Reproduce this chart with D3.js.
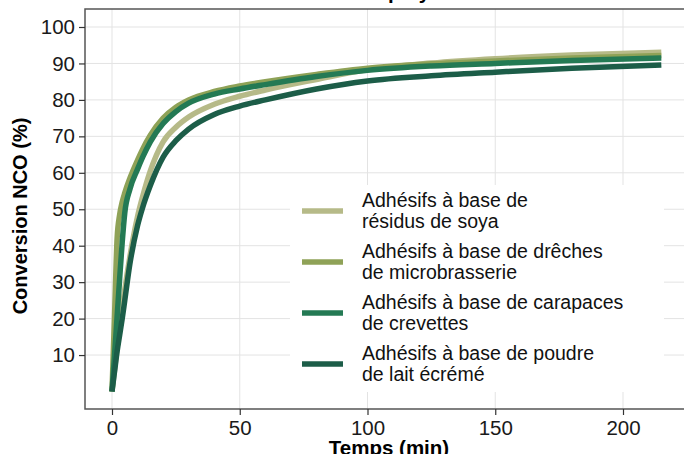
<!DOCTYPE html>
<meta charset="utf-8">
<style>
  body { margin: 0; background: #fff; }
  svg { display: block; font-family: "Liberation Sans", Arial, sans-serif; }
  .grid line { stroke: #e3e3e3; stroke-width: 1; }
  .axis text { font-size: 20.5px; fill: #1a1a1a; }
  .axis line { stroke: #333; stroke-width: 1.2; }
  .axis path { display: none; }
  .series { fill: none; stroke-width: 5.5; stroke-linecap: butt; stroke-linejoin: round; }
  .legend text { font-size: 19.5px; fill: #111; }
  .axtitle { font-size: 20.5px; font-weight: bold; fill: #000; }
</style>

<svg width="684" height="454"></svg>
<script src="https://cdnjs.cloudflare.com/ajax/libs/d3/7.8.5/d3.min.js"></script>
<script>
// data (time in min, NCO conversion in %)
var times = [0, 1, 2, 3, 4, 5, 7, 10, 12, 15, 20, 25, 30, 40, 50, 60, 80, 100, 125, 150, 180, 215];
var soya      = [0, 6, 12, 17.5, 23, 28, 37, 48, 53.5, 60.5, 68.5, 72.5, 75.3, 78.8, 81.0, 82.7, 85.6, 88.3, 90.1, 91.3, 92.3, 93.1];
var dreches   = [0, 21, 42, 48.5, 52, 54.5, 58.5, 63.5, 66.5, 70.3, 75, 78, 80, 82.3, 83.8, 85.0, 87.0, 88.7, 89.9, 90.7, 91.5, 92.2];
var crevettes = [0, 10, 20.5, 31, 41, 49, 55.5, 61, 64.3, 68.5, 73.5, 76.8, 79.1, 81.6, 83.0, 84.2, 86.4, 88.1, 89.3, 90.0, 90.8, 91.5];
var lait      = [0, 5.5, 11, 15.5, 20, 25, 35, 45.5, 50.5, 56.5, 64.3, 68.8, 72, 76, 78.3, 80.0, 83.0, 85.2, 86.6, 87.6, 88.7, 89.6];

var seriesNames = [
  ["Adhésifs à base de", "résidus de soya"],
  ["Adhésifs à base de drêches", "de microbrasserie"],
  ["Adhésifs à base de carapaces", "de crevettes"],
  ["Adhésifs à base de poudre", "de lait écrémé"]
];
var seriesValues = [soya, dreches, crevettes, lait];
var colors = ["#b6ba88", "#8fa257", "#247a54", "#1c5d48"];

var xTicks = [0, 50, 100, 150, 200];
var yTicks = [10, 20, 30, 40, 50, 60, 70, 80, 90, 100];

var svg = d3.select("svg");
var panel = {left: 85, top: 9, right: 690, bottom: 409};

var x = d3.scaleLinear().domain([0, 200]).range([112, 623]);
var y = d3.scaleLinear().domain([0, 100]).range([391.5, 27]);

// title (mostly above the frame)
var title = svg.append("text")
    .attr("class", "axtitle")
    .attr("y", -1)
    .text("Conversion NCO des adhésifs à base de polyol");
var tn = title.node();
var idx = tn.textContent.indexOf("polyol");
title.attr("x", 388 - tn.getSubStringLength(0, idx));

// grid
var grid = svg.append("g").attr("class", "grid");
grid.selectAll(".gx").data(xTicks).enter().append("line")
    .attr("x1", d => x(d)).attr("x2", d => x(d))
    .attr("y1", panel.top).attr("y2", panel.bottom);
grid.selectAll(".gy").data(yTicks).enter().append("line")
    .attr("x1", panel.left).attr("x2", panel.right)
    .attr("y1", d => y(d)).attr("y2", d => y(d));

// lines
var line = d3.line()
    .x(d => x(d[0]))
    .y(d => y(d[1]))
    .curve(d3.curveMonotoneX);

svg.append("g").selectAll("path")
    .data(seriesValues)
    .enter().append("path")
    .attr("class", "series")
    .attr("stroke", (d, i) => colors[i])
    .attr("d", d => line(times.map((t, j) => [t, d[j]])));

// frame
svg.append("path")
    .attr("d", "M" + panel.right + "," + panel.top + "H" + panel.left + "V" + panel.bottom + "H" + panel.right)
    .attr("fill", "none")
    .attr("stroke", "#555")
    .attr("stroke-width", 1.5);

// axes
svg.append("g")
    .attr("class", "axis")
    .attr("transform", "translate(" + panel.left + ",0)")
    .call(d3.axisLeft(y).tickValues(yTicks).tickSize(6).tickPadding(4));
svg.append("g")
    .attr("class", "axis")
    .attr("transform", "translate(0," + panel.bottom + ")")
    .call(d3.axisBottom(x).tickValues(xTicks).tickSize(6).tickPadding(5));

// axis titles
svg.append("text")
    .attr("class", "axtitle")
    .attr("text-anchor", "middle")
    .attr("x", 389)
    .attr("y", 455)
    .text("Temps (min)");
svg.append("text")
    .attr("class", "axtitle")
    .attr("text-anchor", "middle")
    .style("font-size", "20px")
    .attr("transform", "translate(27,216) rotate(-90)")
    .text("Conversion NCO (%)");

// legend
var leg = svg.append("g").attr("class", "legend");
leg.append("rect")
    .attr("x", 290).attr("y", 185)
    .attr("width", 374).attr("height", 207)
    .attr("fill", "#fff");
var items = leg.selectAll(".item")
    .data(seriesNames)
    .enter().append("g")
    .attr("transform", (d, i) => "translate(0," + (211 + i * 51) + ")");
items.append("line")
    .attr("x1", 302).attr("x2", 343)
    .attr("stroke-width", 5.5)
    .attr("stroke", (d, i) => colors[i]);
items.append("text")
    .attr("x", 362)
    .attr("y", -4)
    .text(d => d[0]);
items.append("text")
    .attr("x", 362)
    .attr("y", 17)
    .text(d => d[1]);
</script>
